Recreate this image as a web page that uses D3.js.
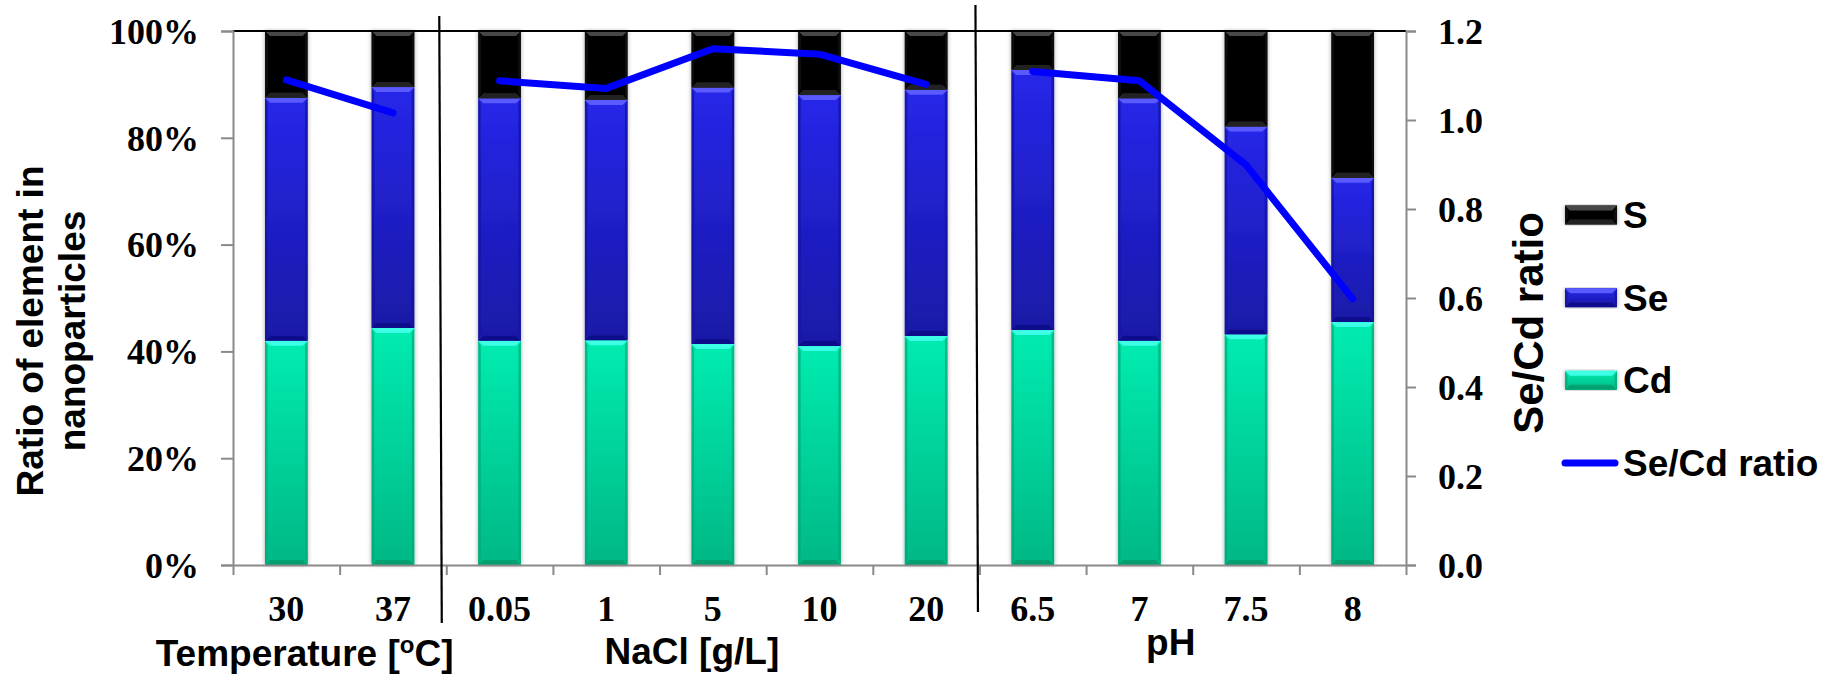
<!DOCTYPE html>
<html>
<head>
<meta charset="utf-8">
<script src="https://cdn.jsdelivr.net/npm/d3@7/dist/d3.min.js"></script>
<style>
  html, body { margin: 0; padding: 0; background: #ffffff; }
  svg { display: block; }
</style>
</head>
<body>
<svg id="chart" width="1837" height="676"></svg>
<script>
// ---- data ---------------------------------------------------------------
const categories = ["30", "37", "0.05", "1", "5", "10", "20", "6.5", "7", "7.5", "8"];
const cdShare = [0.420, 0.444, 0.420, 0.421, 0.414, 0.410, 0.429, 0.440, 0.420, 0.432, 0.455];
const seShare = [0.455, 0.451, 0.454, 0.450, 0.480, 0.470, 0.461, 0.487, 0.454, 0.389, 0.270];
const sShare  = [0.125, 0.105, 0.126, 0.129, 0.106, 0.120, 0.110, 0.073, 0.126, 0.179, 0.275];
const seCdRatio = [1.090, 1.016, 1.088, 1.071, 1.160, 1.148, 1.080, 1.109, 1.088, 0.899, 0.598];

const leftTicks = [0, 0.2, 0.4, 0.6, 0.8, 1.0];
const rightTicks = [0, 0.2, 0.4, 0.6, 0.8, 1.0, 1.2];

// experimental groups: first/last category index of each block
const groupNames = ["Temperature", "NaCl", "pH"];
const groupStart = [0, 2, 7];
const groupEnd = [1, 6, 10];

const seriesNames = ["Cd", "Se", "S"];
const lineName = "Se/Cd ratio";

// ---- layout -------------------------------------------------------------
const plot = { left: 233, right: 1406, top: 31, bottom: 565 };
const serif = "'Liberation Serif', 'Times New Roman', Times, serif";
const sans = "'Liberation Sans', Arial, Helvetica, sans-serif";

const styles = {
  Cd: { top: "#00ecb0", bottom: "#00b885", hi: "#3dffe6", lo: "#009a6c", side: "#00a878" },
  Se: { top: "#2626ea", bottom: "#1919a6", hi: "#5a5aff", lo: "#0e0e86", side: "#14149a" },
  S:  { top: "#060606", bottom: "#030303", hi: "#474747", lo: "#2a2a2a", side: "#101010" }
};

const svg = d3.select("#chart");
svg.append("rect").attr("width", 1837).attr("height", 676).attr("fill", "#ffffff");

const defs = svg.append("defs");
seriesNames.forEach(name => {
  const g = defs.append("linearGradient").attr("id", "grad-" + name)
    .attr("x1", 0).attr("y1", 0).attr("x2", 0).attr("y2", 1);
  g.append("stop").attr("offset", "0%").attr("stop-color", styles[name].top);
  g.append("stop").attr("offset", "100%").attr("stop-color", styles[name].bottom);
});
const shadow = defs.append("filter").attr("id", "barShadow")
  .attr("x", "-30%").attr("y", "-5%").attr("width", "160%").attr("height", "110%");
shadow.append("feDropShadow").attr("dx", 0).attr("dy", 0).attr("stdDeviation", 2.2)
  .attr("flood-color", "#000000").attr("flood-opacity", 0.35);

// ---- scales -------------------------------------------------------------
const x = d3.scaleBand().domain(d3.range(categories.length))
  .range([plot.left, plot.right]).paddingInner(0.6).paddingOuter(0.3);
const edge = d3.scaleLinear().domain([0, categories.length]).range([plot.left, plot.right]);
const y = d3.scaleLinear().domain([0, 1]).range([plot.bottom, plot.top]);
const y2 = d3.scaleLinear().domain([0, 1.2]).range([plot.bottom, plot.top]);

// ---- stacked bars -------------------------------------------------------
const rows = categories.map((c, i) => ({ i, Cd: cdShare[i], Se: seShare[i], S: sShare[i] }));
const stacked = d3.stack().keys(seriesNames)(rows);

function bevelSegment(g, x0, y0, w, h, st, gradId) {
  const b = Math.min(5, h / 2);
  g.append("rect").attr("x", x0).attr("y", y0).attr("width", w).attr("height", h)
    .attr("fill", `url(#${gradId})`);
  // side edges
  g.append("polygon").attr("points", [[x0, y0], [x0 + 2.5, y0 + b], [x0 + 2.5, y0 + h - b], [x0, y0 + h]].join(" "))
    .attr("fill", st.side).attr("opacity", 0.7);
  g.append("polygon").attr("points", [[x0 + w, y0], [x0 + w - 2.5, y0 + b], [x0 + w - 2.5, y0 + h - b], [x0 + w, y0 + h]].join(" "))
    .attr("fill", st.side).attr("opacity", 0.7);
  // top highlight and bottom shade
  g.append("polygon").attr("points", [[x0, y0], [x0 + w, y0], [x0 + w - b, y0 + b], [x0 + b, y0 + b]].join(" "))
    .attr("fill", st.hi);
  g.append("polygon").attr("points", [[x0, y0 + h], [x0 + w, y0 + h], [x0 + w - b, y0 + h - b], [x0 + b, y0 + h - b]].join(" "))
    .attr("fill", st.lo).attr("opacity", 0.8);
}

const barLayer = svg.append("g");
rows.forEach((r, i) => {
  const bar = barLayer.append("g").attr("filter", "url(#barShadow)");
  stacked.forEach(layer => {
    const d = layer[i];
    const y0 = y(d[1]);
    const h = y(d[0]) - y(d[1]);
    bevelSegment(bar, x(i), y0, x.bandwidth(), h, styles[layer.key], "grad-" + layer.key);
  });
});

// ---- axes ---------------------------------------------------------------
const axisGray = "#8a8a8a";

// frame top edge
svg.append("line").attr("x1", plot.left).attr("x2", plot.right)
  .attr("y1", plot.top).attr("y2", plot.top)
  .attr("stroke", "#000000").attr("stroke-width", 2);

const leftAxis = svg.append("g").attr("transform", `translate(${plot.left},0)`)
  .call(d3.axisLeft(y).tickValues(leftTicks).tickFormat(d3.format(".0%")).tickSize(12).tickPadding(22));
leftAxis.select(".domain").attr("stroke", axisGray).attr("stroke-width", 2);
leftAxis.selectAll(".tick line").attr("stroke", axisGray).attr("stroke-width", 2);
leftAxis.selectAll("text").attr("font-family", serif).attr("font-weight", "bold")
  .attr("font-size", 36).attr("fill", "#000").attr("dy", "0.34em");

const rightAxis = svg.append("g").attr("transform", `translate(${plot.right},0)`)
  .call(d3.axisRight(y2).tickValues(rightTicks).tickFormat(d3.format(".1f")).tickSize(10).tickPadding(22));
rightAxis.select(".domain").attr("stroke", axisGray).attr("stroke-width", 2);
rightAxis.selectAll(".tick line").attr("stroke", axisGray).attr("stroke-width", 2);
rightAxis.selectAll("text").attr("font-family", serif).attr("font-weight", "bold")
  .attr("font-size", 36).attr("fill", "#000").attr("dy", "0.34em");

// bottom axis: tick marks between categories
const bottomTicks = svg.append("g").attr("transform", `translate(0,${plot.bottom})`)
  .call(d3.axisBottom(edge).tickValues(d3.range(categories.length + 1)).tickFormat("").tickSize(10).tickSizeOuter(0));
bottomTicks.select(".domain").attr("stroke", axisGray).attr("stroke-width", 2);
bottomTicks.selectAll(".tick line").attr("stroke", axisGray).attr("stroke-width", 2);

// bottom axis: category labels centred under the bars
const bottomLabels = svg.append("g").attr("transform", `translate(0,${plot.bottom})`)
  .call(d3.axisBottom(x).tickFormat(i => categories[i]).tickSize(0));
bottomLabels.select(".domain").remove();
bottomLabels.selectAll("text").attr("font-family", serif).attr("font-weight", "bold")
  .attr("font-size", 36).attr("fill", "#000").attr("y", 56).attr("dy", null);

// group separators
const sepOffsets = [{ top: -7, bottom: -4.5, y1: 16, y2: 623 }, { top: -4, bottom: -1.5, y1: 5, y2: 612 }];
[groupEnd[0] + 1, groupEnd[1] + 1].forEach((k, j) => {
  const o = sepOffsets[j];
  svg.append("line")
    .attr("x1", edge(k) + o.top).attr("y1", o.y1)
    .attr("x2", edge(k) + o.bottom).attr("y2", o.y2)
    .attr("stroke", "#000000").attr("stroke-width", 2.2);
});

// group titles
const groupShift = [-35, -21, -22];
const groupBaseline = [666, 664, 655];
groupNames.forEach((name, j) => {
  const cx = (edge(groupStart[j]) + edge(groupEnd[j] + 1)) / 2 + groupShift[j];
  const t = svg.append("text").attr("x", cx).attr("y", groupBaseline[j])
    .attr("text-anchor", "middle").attr("font-family", sans).attr("font-weight", "bold")
    .attr("font-size", 37).attr("fill", "#000");
  if (name === "Temperature") {
    t.append("tspan").text("Temperature [");
    t.append("tspan").attr("font-size", 24).attr("dy", -13).text("o");
    t.append("tspan").attr("dy", 13).text("C]");
  } else if (name === "NaCl") {
    t.text("NaCl [g/L]");
  } else {
    t.text("pH");
  }
});

// axis titles
const leftTitle = svg.append("text").attr("transform", "translate(43,331) rotate(-90)")
  .attr("text-anchor", "middle").attr("font-family", sans).attr("font-weight", "bold")
  .attr("font-size", 37).attr("fill", "#000");
leftTitle.append("tspan").attr("x", 0).attr("y", 0).text("Ratio of element in");
leftTitle.append("tspan").attr("x", 0).attr("y", 42).text("nanoparticles");

svg.append("text").attr("transform", "translate(1543,323) rotate(-90)")
  .attr("text-anchor", "middle").attr("font-family", sans).attr("font-weight", "bold")
  .attr("font-size", 42).attr("fill", "#000").text("Se/Cd ratio");

// ---- Se/Cd ratio line (one segment per experimental group) ---------------
const line = d3.line().x(d => x(d) + x.bandwidth() / 2).y(d => y2(seCdRatio[d]));
groupNames.forEach((name, j) => {
  svg.append("path").datum(d3.range(groupStart[j], groupEnd[j] + 1)).attr("d", line)
    .attr("fill", "none").attr("stroke", "#0000ff").attr("stroke-width", 7)
    .attr("stroke-linejoin", "round").attr("stroke-linecap", "round");
});

// ---- legend -------------------------------------------------------------
const legendItems = ["S", "Se", "Cd"];
const legendY = d3.scalePoint().domain([...legendItems, lineName]).range([215, 463]);
const legend = svg.append("g");
legendItems.forEach(name => {
  const cy = legendY(name);
  const g = legend.append("g").attr("filter", "url(#barShadow)");
  bevelSegment(g, 1565, cy - 9.5, 52, 19, styles[name], "grad-" + name);
  legend.append("text").attr("x", 1623).attr("y", cy + 13)
    .attr("font-family", sans).attr("font-weight", "bold").attr("font-size", 37)
    .attr("fill", "#000").text(name);
});
{
  const cy = legendY(lineName);
  legend.append("line").attr("x1", 1565).attr("x2", 1615).attr("y1", cy).attr("y2", cy)
    .attr("stroke", "#0000ff").attr("stroke-width", 7).attr("stroke-linecap", "round");
  legend.append("text").attr("x", 1623).attr("y", cy + 13)
    .attr("font-family", sans).attr("font-weight", "bold").attr("font-size", 37)
    .attr("fill", "#000").text(lineName);
}
</script>
</body>
</html>
